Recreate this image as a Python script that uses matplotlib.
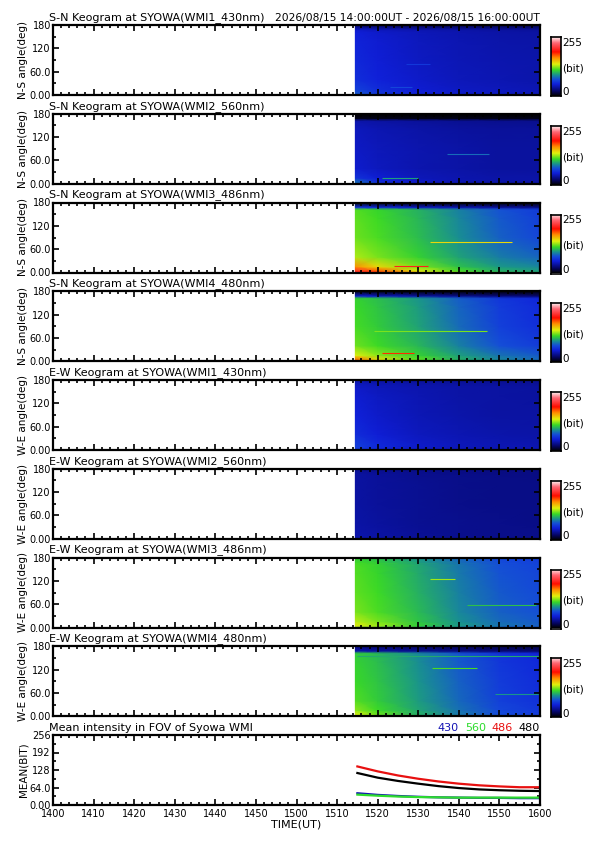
import numpy as np
import matplotlib
matplotlib.use("Agg")
import matplotlib.pyplot as plt
from matplotlib.colors import LinearSegmentedColormap
from matplotlib.ticker import MultipleLocator

plt.rcParams.update({
    "font.family": "DejaVu Sans",
    "font.size": 8,
})

W, H = 595, 842

# time axis: minutes after 14:00 UT, labels are HHMM
XTICKS = [0, 10, 20, 30, 40, 50, 60, 70, 80, 90, 100, 110, 120]
XTICKLABELS = ["1400", "1410", "1420", "1430", "1440", "1450", "1500",
               "1510", "1520", "1530", "1540", "1550", "1600"]

# keogram grid nodes
T_NODES = [74.5, 80, 90, 100, 110, 120]
ANG_NODES = [0, 4, 15, 40, 90, 140, 162, 168, 180]

TITLES = [
    "S-N Keogram at SYOWA(WMI1_430nm)",
    "S-N Keogram at SYOWA(WMI2_560nm)",
    "S-N Keogram at SYOWA(WMI3_486nm)",
    "S-N Keogram at SYOWA(WMI4_480nm)",
    "E-W Keogram at SYOWA(WMI1_430nm)",
    "E-W Keogram at SYOWA(WMI2_560nm)",
    "E-W Keogram at SYOWA(WMI3_486nm)",
    "E-W Keogram at SYOWA(WMI4_480nm)",
]
YLABELS = ["N-S angle(deg)"] * 4 + ["W-E angle(deg)"] * 4
DATE_RANGE = "2026/08/15 14:00:00UT - 2026/08/15 16:00:00UT"

# intensity (bit), rows = ANG_NODES, cols = T_NODES
SN_430 = [
    [52, 47, 42, 40, 38, 36],
    [75, 62, 52, 47, 45, 42],
    [66, 57, 49, 45, 43, 41],
    [58, 52, 47, 43, 41, 39],
    [55, 50, 45, 42, 40, 39],
    [53, 49, 44, 41, 39, 38],
    [51, 47, 43, 40, 38, 37],
    [47, 43, 40, 38, 36, 35],
    [20, 18, 16, 15, 15, 15],
]
SN_560 = [
    [42, 38, 36, 34, 33, 33],
    [82, 58, 46, 40, 38, 38],
    [60, 50, 43, 40, 38, 38],
    [48, 44, 40, 38, 36, 36],
    [46, 43, 40, 38, 36, 36],
    [44, 41, 38, 36, 35, 35],
    [39, 37, 35, 33, 32, 32],
    [5, 5, 5, 5, 5, 5],
    [0, 0, 0, 0, 0, 0],
]
SN_486 = [
    [200, 185, 150, 120, 105, 100],
    [205, 178, 140, 115, 100, 95],
    [165, 145, 122, 105, 93, 88],
    [130, 122, 110, 96, 85, 78],
    [120, 115, 104, 90, 77, 68],
    [118, 113, 102, 88, 75, 65],
    [116, 111, 100, 86, 73, 63],
    [60, 55, 45, 40, 35, 30],
    [0, 0, 0, 0, 0, 0],
]
SN_480 = [
    [160, 140, 118, 100, 88, 80],
    [175, 145, 118, 100, 88, 80],
    [138, 125, 110, 95, 82, 75],
    [120, 113, 102, 86, 72, 64],
    [114, 108, 96, 80, 66, 58],
    [112, 106, 94, 78, 64, 56],
    [110, 104, 92, 76, 62, 54],
    [50, 45, 38, 32, 28, 25],
    [0, 0, 0, 0, 0, 0],
]
EW_430 = [
    [56, 47, 42, 39, 37, 37],
    [65, 55, 47, 43, 41, 41],
    [65, 55, 47, 43, 41, 40],
    [57, 50, 44, 41, 39, 38],
    [52, 47, 42, 39, 37, 37],
    [49, 45, 41, 38, 37, 36],
    [47, 43, 40, 38, 37, 36],
    [45, 42, 39, 37, 36, 35],
    [38, 36, 34, 33, 32, 32],
]
EW_560 = [
    [35, 33, 31, 30, 29, 29],
    [40, 37, 34, 32, 31, 31],
    [39, 37, 34, 32, 31, 31],
    [38, 36, 33, 32, 31, 30],
    [37, 35, 33, 31, 30, 30],
    [37, 35, 33, 31, 30, 30],
    [37, 35, 32, 31, 30, 29],
    [36, 34, 32, 30, 29, 29],
    [33, 31, 30, 29, 28, 28],
]
EW_486 = [
    [95, 88, 76, 64, 57, 53],
    [140, 128, 110, 94, 83, 77],
    [132, 122, 106, 91, 80, 75],
    [122, 115, 103, 88, 77, 72],
    [118, 113, 100, 86, 75, 70],
    [116, 111, 98, 84, 73, 68],
    [115, 110, 97, 83, 72, 67],
    [113, 108, 95, 81, 71, 66],
    [108, 103, 91, 78, 68, 63],
]
EW_480 = [
    [130, 115, 98, 82, 70, 64],
    [138, 120, 100, 84, 71, 64],
    [125, 113, 97, 82, 69, 62],
    [116, 108, 94, 79, 66, 59],
    [112, 106, 92, 77, 64, 57],
    [110, 104, 90, 75, 62, 55],
    [108, 102, 88, 73, 60, 53],
    [40, 36, 32, 28, 25, 24],
    [25, 22, 20, 18, 16, 15],
]
KEOGRAMS = [SN_430, SN_560, SN_486, SN_480, EW_430, EW_560, EW_486, EW_480]

# thin bright streaks: (panel, angle, t start, t end, value)
STREAKS = [
    (0, 81, 87, 93, 62),
    (0, 20, 83, 88.5, 68),
    (1, 76, 97, 107.5, 80),
    (1, 15, 81, 90, 95),
    (2, 78, 93, 113, 145),
    (2, 16, 84, 92.5, 200),
    (3, 78, 79, 107, 122),
    (3, 20, 81, 89, 185),
    (6, 125, 93, 99, 128),
    (6, 57, 102, 119, 105),
    (7, 154, 75, 120, 98),
    (7, 125, 93.5, 104.5, 115),
    (7, 56, 109, 120, 92),
]

# mean intensity in FOV
T_MEAN = [75, 80, 85, 90, 95, 100, 105, 110, 115, 120]
MEAN_430 = [43, 37, 33, 30, 28, 27, 26, 26, 25, 25]
MEAN_560 = [38, 34, 31, 29, 28, 27, 27, 27, 27, 27]
MEAN_486 = [141, 123, 108, 96, 86, 78, 72, 68, 65, 65]
MEAN_480 = [117, 100, 88, 78, 69, 62, 57, 54, 52, 51]
MEAN_SERIES = [("430", MEAN_430, "#1414b4"), ("560", MEAN_560, "#2ddc2d"),
               ("486", MEAN_486, "#e81010"), ("480", MEAN_480, "black")]

cmap = LinearSegmentedColormap.from_list("keo", [
    (0.00, (0.0, 0.0, 0.0)),
    (0.08, (0.02, 0.02, 0.38)),
    (0.20, (0.06, 0.12, 0.85)),
    (0.28, (0.08, 0.30, 0.85)),
    (0.36, (0.10, 0.58, 0.55)),
    (0.44, (0.22, 0.85, 0.15)),
    (0.54, (0.88, 0.95, 0.05)),
    (0.65, (1.0, 0.55, 0.0)),
    (0.75, (1.0, 0.05, 0.0)),
    (0.90, (1.0, 0.40, 0.45)),
    (1.00, (1.0, 0.95, 0.95)),
])

fig = plt.figure(figsize=(W / 100, H / 100), dpi=100)


def px_axes(x0, y0, x1, y1):
    return fig.add_axes([x0 / W, 1 - y1 / H, (x1 - x0) / W, (y1 - y0) / H])


def style_axes(ax):
    for sp in ax.spines.values():
        sp.set_linewidth(1.6)
        sp.set_zorder(5)
    ax.tick_params(which="both", direction="in", top=True, right=True,
                   width=1.2, labelsize=7, pad=1.5)
    ax.tick_params(which="major", length=4)
    ax.tick_params(which="minor", length=2.5)


LEFT, RIGHT = 53, 540
TOP0, PH, STEP = 25, 70, 88.75

TT, AA = np.meshgrid(T_NODES, ANG_NODES)
for i, grid in enumerate(KEOGRAMS):
    top = TOP0 + i * STEP
    ax = px_axes(LEFT, top, RIGHT, top + PH)
    ax.pcolormesh(TT, AA, np.array(grid, float), shading="gouraud",
                  cmap=cmap, vmin=0, vmax=255)
    for p, ang, t0, t1, v in STREAKS:
        if p == i:
            ax.hlines(ang, t0, t1, colors=[cmap(v / 255)], lw=0.8)
    ax.set_xlim(0, 120)
    ax.set_ylim(0, 180)
    ax.set_xticks(XTICKS)
    ax.set_xticklabels([])
    ax.xaxis.set_minor_locator(MultipleLocator(2))
    ax.set_yticks([0, 60, 120, 180])
    ax.set_yticklabels(["0.00", "60.0", "120", "180"])
    ax.yaxis.set_minor_locator(MultipleLocator(30))
    style_axes(ax)
    ax.set_ylabel(YLABELS[i], fontsize=7.5, labelpad=1)
    ax.text(-0.008, 1.03, TITLES[i], transform=ax.transAxes, fontsize=8,
            ha="left", va="bottom")
    if i == 0:
        ax.text(1.0, 1.03, DATE_RANGE, transform=ax.transAxes, fontsize=7.7,
                ha="right", va="bottom")

    # colour bar
    cax = px_axes(551, top + 12, 561, top + PH + 1)
    cax.imshow(np.linspace(0, 255, 256)[:, None], aspect="auto",
               origin="lower", cmap=cmap, vmin=0, vmax=255)
    cax.set_xticks([])
    cax.set_yticks([])
    for sp in cax.spines.values():
        sp.set_linewidth(1.2)
    cax.text(1.15, 0.9, "255", transform=cax.transAxes, fontsize=7.5,
             ha="left", va="center")
    cax.text(1.15, 0.47, "(bit)", transform=cax.transAxes, fontsize=7.5,
             ha="left", va="center")
    cax.text(1.15, 0.06, "0", transform=cax.transAxes, fontsize=7.5,
             ha="left", va="center")

# mean intensity panel
top = TOP0 + 8 * STEP
ax = px_axes(LEFT, top, RIGHT, top + PH)
for lbl, vals, color in MEAN_SERIES:
    ax.plot(T_MEAN, vals, color=color, lw=1.6)
ax.set_xlim(0, 120)
ax.set_ylim(0, 256)
ax.set_xticks(XTICKS)
ax.set_xticklabels(XTICKLABELS)
ax.xaxis.set_minor_locator(MultipleLocator(2))
ax.set_yticks([0, 64, 128, 192, 256])
ax.set_yticklabels(["0.00", "64.0", "128", "192", "256"])
ax.yaxis.set_minor_locator(MultipleLocator(32))
style_axes(ax)
ax.tick_params(axis="x", pad=3)
ax.set_ylabel("MEAN(BIT)", fontsize=7.5, labelpad=1)
ax.set_xlabel("TIME(UT)", fontsize=8, labelpad=0)
ax.text(-0.008, 1.03, "Mean intensity in FOV of Syowa WMI",
        transform=ax.transAxes, fontsize=8, ha="left", va="bottom")

# coloured legend text, right aligned
x = 1.0
for lbl, vals, color in reversed(MEAN_SERIES):
    t = ax.text(x, 1.03, lbl, transform=ax.transAxes, fontsize=8,
                ha="right", va="bottom", color=color)
    fig.canvas.draw()
    bb = t.get_window_extent()
    w = bb.width / (ax.get_window_extent().width)
    x -= w + 0.012

fig.savefig("out.png", dpi=100)
